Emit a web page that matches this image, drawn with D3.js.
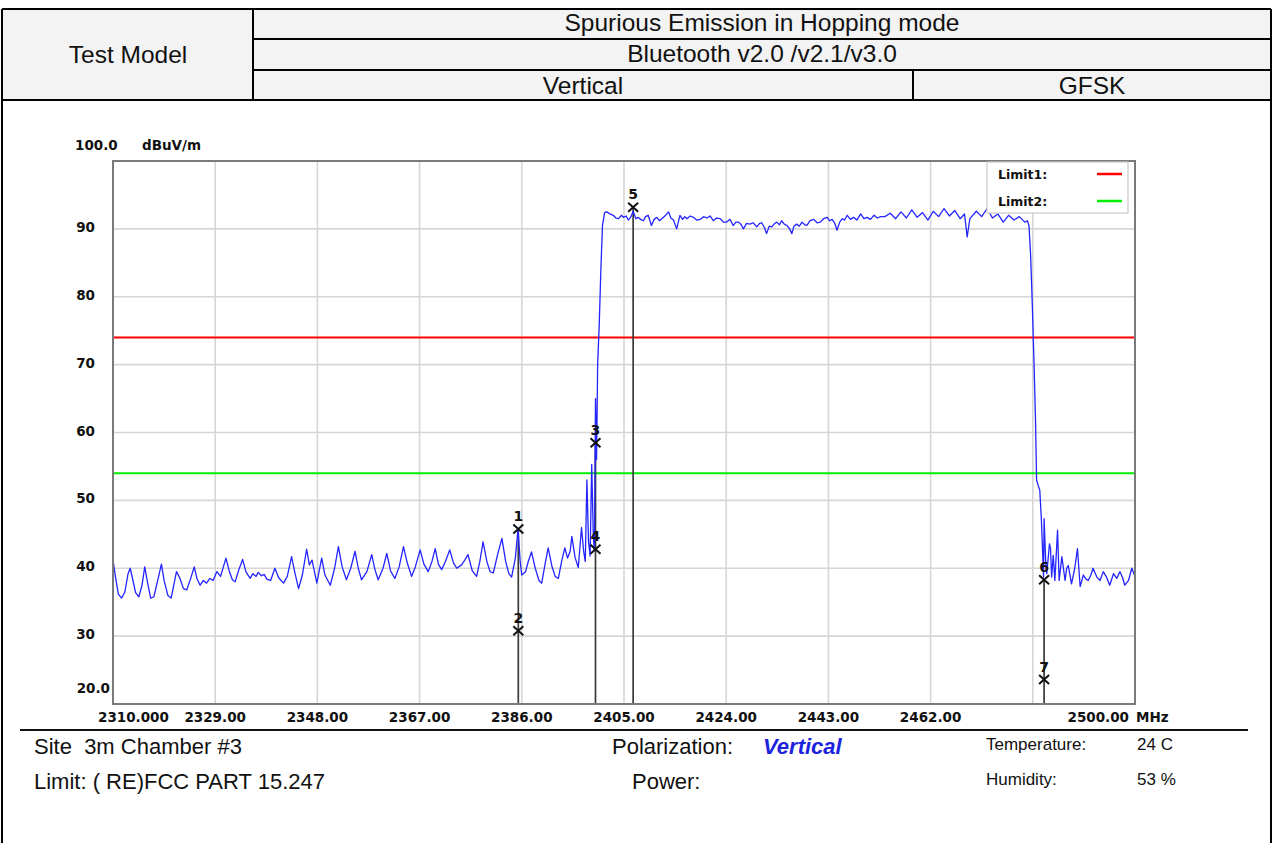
<!DOCTYPE html>
<html>
<head>
<meta charset="utf-8">
<script src="https://cdn.jsdelivr.net/npm/d3@7/dist/d3.min.js"></script>
<style>
  body { margin: 0; background: #fff; }
  svg { display: block; }
</style>
</head>
<body>
<div id="chart"></div>
<script>
var width = 1273,
    height = 843;

// sweep: [MHz, dBuV/m]
var trace = [
  [2310.0,41.2],[2310.5,38.5],[2311.0,36.2],[2311.6,35.6],[2312.2,36.5],[2312.8,39.2],[2313.2,40.0],[2313.6,38.6],
  [2314.2,36.4],[2314.8,35.8],[2315.4,37.5],[2315.9,40.2],[2316.4,38.0],[2317.0,35.6],[2317.6,35.8],[2318.4,38.5],
  [2319.0,40.6],[2319.5,38.2],[2320.2,36.0],[2320.8,35.6],[2321.3,37.5],[2321.8,39.5],[2322.4,38.6],[2323.1,37.0],
  [2323.7,36.8],[2324.4,38.4],[2325.1,40.2],[2325.6,38.5],[2326.2,37.5],[2326.8,38.2],[2327.4,37.8],[2328.0,38.5],
  [2328.6,38.2],[2329.3,39.5],[2330.0,38.8],[2331.0,41.5],[2331.6,39.6],[2332.2,38.3],[2332.7,38.0],[2333.4,39.8],
  [2334.1,41.3],[2334.7,39.5],[2335.5,38.5],[2336.0,39.2],[2336.6,38.8],[2337.0,39.4],[2337.6,38.9],[2338.1,39.1],
  [2338.6,38.4],[2339.3,38.2],[2340.1,40.0],[2340.8,38.6],[2341.7,37.8],[2342.4,38.8],[2343.2,41.7],[2343.8,39.4],
  [2344.5,37.0],[2345.2,39.0],[2346.0,42.8],[2346.5,40.5],[2347.0,41.2],[2347.9,37.8],[2348.3,39.5],[2348.8,41.5],
  [2349.4,39.0],[2350.4,37.5],[2351.2,40.0],[2351.9,43.2],[2352.6,40.2],[2353.4,38.3],[2354.2,40.0],[2355.0,42.5],
  [2355.6,40.0],[2356.2,38.3],[2357.2,39.5],[2358.1,42.0],[2358.7,39.8],[2359.3,38.3],[2360.2,40.0],[2360.9,42.2],
  [2361.6,39.6],[2362.4,38.5],[2363.2,40.2],[2364.0,43.2],[2364.7,40.8],[2365.5,38.8],[2366.2,40.2],[2367.1,42.7],
  [2367.8,40.6],[2368.6,39.5],[2369.3,41.0],[2369.9,42.9],[2370.5,40.6],[2371.1,39.8],[2371.8,41.0],[2372.6,42.7],
  [2373.3,40.8],[2373.9,40.0],[2374.8,40.5],[2375.4,41.2],[2376.0,42.0],[2376.8,39.6],[2377.6,38.8],[2378.2,41.0],
  [2378.8,43.9],[2379.5,41.0],[2380.1,39.5],[2380.7,39.3],[2381.5,42.0],[2382.3,44.4],[2383.0,41.0],[2383.6,39.2],
  [2384.1,38.7],[2384.8,41.5],[2385.3,45.8],[2385.7,41.0],[2386.0,39.0],[2386.7,39.5],[2387.2,41.0],[2387.8,42.4],
  [2388.5,40.0],[2389.2,38.2],[2389.7,37.8],[2390.3,40.5],[2390.9,43.0],[2391.6,40.3],[2392.2,38.8],[2392.8,38.5],
  [2393.4,41.0],[2394.0,43.0],[2394.5,41.5],[2395.0,42.5],[2395.3,44.7],[2395.9,41.6],[2396.5,40.1],[2397.1,46.0],
  [2397.5,42.5],[2397.8,41.0],[2398.1,53.0],[2398.4,44.0],[2398.7,41.8],[2399.0,55.3],[2399.3,44.5],[2399.5,42.6],
  [2399.7,65.0],[2399.9,56.0],[2400.1,70.0],[2400.4,76.0],[2400.7,84.0],[2401.0,90.5],[2401.4,92.4],
  [2401.8,92.5],[2402.4,92.2],[2403.0,92.0],[2403.5,91.6],[2404.0,91.5],[2404.5,92.0],[2404.9,91.7],[2405.4,91.9],
  [2405.8,91.3],[2406.3,91.8],[2406.7,92.6],[2407.2,91.5],[2407.6,91.7],[2408.1,91.4],[2408.6,91.2],[2409.0,91.8],
  [2409.5,92.0],[2410.1,90.5],[2410.6,91.4],[2411.1,91.7],[2411.6,91.2],[2412.0,91.5],[2412.6,91.9],[2413.3,92.5],
  [2413.7,91.6],[2414.2,91.3],[2414.8,90.0],[2415.4,92.0],[2415.9,91.4],[2416.3,91.8],[2416.7,91.5],[2417.3,91.9],
  [2417.9,91.7],[2418.5,91.3],[2419.2,91.4],[2419.8,91.8],[2420.4,91.6],[2421.0,91.9],[2421.6,91.2],[2422.2,91.6],
  [2422.9,91.5],[2423.5,91.0],[2424.1,91.0],[2424.7,91.4],[2425.3,90.5],[2425.8,91.0],[2426.3,91.0],[2426.8,90.6],
  [2427.2,90.0],[2427.8,90.8],[2428.4,90.7],[2429.0,90.9],[2429.7,90.3],[2430.2,90.8],[2430.6,90.9],[2431.1,90.2],
  [2431.5,89.3],[2432.0,90.4],[2432.5,90.3],[2433.0,90.8],[2433.4,91.0],[2433.9,90.6],[2434.3,91.2],[2434.8,90.7],
  [2435.3,90.5],[2435.8,90.0],[2436.2,89.3],[2436.6,90.4],[2437.1,90.7],[2437.6,90.4],[2438.1,91.0],[2438.6,90.6],
  [2439.0,90.5],[2439.6,91.2],[2440.3,91.4],[2440.9,90.9],[2441.5,91.0],[2442.1,91.5],[2442.8,91.7],[2443.2,91.2],
  [2443.7,91.4],[2444.2,90.8],[2444.6,89.8],[2445.1,91.0],[2445.6,91.5],[2446.0,91.3],[2446.5,92.0],[2447.1,91.4],
  [2447.7,91.7],[2448.3,91.3],[2449.0,92.2],[2449.6,91.5],[2450.2,91.7],[2450.8,91.4],[2451.5,92.0],[2452.1,91.6],
  [2452.7,91.8],[2453.5,91.8],[2454.5,92.3],[2455.5,91.5],[2456.5,92.5],[2457.5,91.6],[2458.5,92.8],[2459.5,91.7],
  [2460.5,92.4],[2461.5,91.3],[2462.5,92.6],[2463.5,91.8],[2464.5,93.0],[2465.5,91.9],[2466.5,92.7],[2467.5,91.5],
  [2468.3,92.2],[2468.8,88.8],[2469.3,91.5],[2470.5,92.6],[2471.5,91.8],[2472.5,93.0],[2473.5,91.6],[2474.5,92.2],
  [2475.5,91.0],[2476.5,92.0],[2477.5,91.3],[2478.5,91.8],[2479.5,91.0],[2480.0,91.2],[2480.3,90.4],
  [2480.6,86.0],[2480.9,79.0],[2481.2,71.0],[2481.5,62.0],[2481.7,53.0],[2482.0,52.2],[2482.3,51.5],[2482.6,47.1],
  [2483.0,38.7],[2483.1,47.3],[2483.4,41.0],[2483.6,39.2],[2484.1,43.6],[2484.3,42.9],[2484.5,38.7],[2484.8,41.9],
  [2485.1,38.2],[2485.6,45.6],[2485.9,38.2],[2486.4,41.7],[2487.0,38.2],[2487.3,40.0],[2487.6,40.4],[2488.2,37.7],
  [2488.8,40.0],[2489.3,42.9],[2489.8,37.3],[2490.4,39.0],[2490.9,38.4],[2491.3,38.2],[2491.8,39.0],[2492.2,40.0],
  [2492.9,38.7],[2493.5,38.2],[2494.1,39.5],[2494.7,38.7],[2495.3,37.5],[2496.0,39.2],[2496.6,38.5],[2497.2,39.5],
  [2497.7,38.6],[2498.1,37.5],[2498.8,38.2],[2499.4,40.0],[2500.0,38.8]
];

var markerIds = ["1","2","3","4","5","6","7"],
    markerMHz = [2385.35, 2385.35, 2399.7, 2399.7, 2406.7, 2483.1, 2483.1],
    markerDb  = [45.8, 30.8, 58.5, 42.8, 93.2, 38.3, 23.6];

var limitNames = ["Limit1:", "Limit2:"],
    limitDb = [74, 54];

var xTicks = [2310, 2329, 2348, 2367, 2386, 2405, 2424, 2443, 2462, 2481, 2500],
    xTickLabels = ["2310.000","2329.00","2348.00","2367.00","2386.00","2405.00","2424.00","2443.00","2462.00","","2500.00"],
    yTicks = [20, 30, 40, 50, 60, 70, 80, 90, 100],
    yTickLabels = ["20.0","30","40","50","60","70","80","90","100.0"];

var headerTitle = "Spurious Emission in Hopping mode",
    headerStd = "Bluetooth v2.0 /v2.1/v3.0",
    headerPol = "Vertical",
    headerMod = "GFSK";

var limitColor = ["#ff0000", "#00ee00"];

var svg = d3.select("#chart").append("svg")
    .attr("width", width)
    .attr("height", height)
    .style("background", "#fff");

//////// header table
var head = svg.append("g").attr("class","header");
head.append("rect").attr("x",2).attr("y",9).attr("width",1269).attr("height",91)
    .attr("fill","#f3f3f3");
var hl = [[2,9,1271,9],[253,39,1271,39],[253,70,1271,70],[2,100,1271,100],
          [2,9,2,843],[1271,9,1271,843],[253,9,253,100],[913,70,913,100]];
head.selectAll("line").data(hl).enter().append("line")
    .attr("x1",function(d){return d[0]}).attr("y1",function(d){return d[1]})
    .attr("x2",function(d){return d[2]}).attr("y2",function(d){return d[3]})
    .attr("stroke","#000").attr("stroke-width",2);

var htxt = [["Test Model",128,63],[headerTitle,762,31],[headerStd,762,62],[headerPol,583,94],[headerMod,1092,94]];
head.selectAll("text").data(htxt).enter().append("text")
    .attr("x",function(d){return d[1]}).attr("y",function(d){return d[2]})
    .attr("text-anchor","middle")
    .style("font-family","'Liberation Sans', Arial, sans-serif")
    .style("font-size","24.5px")
    .attr("fill","#111")
    .text(function(d){return d[0]});

//////// plot
var x = d3.scaleLinear().domain([2310, 2500]).range([113, 1135]);
var y = d3.scaleLinear().domain([20, 100]).range([704, 161]);

var plot = svg.append("g").attr("class","plot");

// grid
plot.selectAll(".vgrid").data(xTicks.slice(1, -1)).enter().append("line")
    .attr("class","vgrid")
    .attr("x1",function(d){return x(d)}).attr("x2",function(d){return x(d)})
    .attr("y1",y(100)).attr("y2",y(20))
    .attr("stroke","#d6d6d6").attr("stroke-width",1.6);
plot.selectAll(".hgrid").data(yTicks.slice(1, -1)).enter().append("line")
    .attr("class","hgrid")
    .attr("y1",function(d){return y(d)}).attr("y2",function(d){return y(d)})
    .attr("x1",x(2310)).attr("x2",x(2500))
    .attr("stroke","#d6d6d6").attr("stroke-width",1.6);

// limit lines
plot.selectAll(".limit").data(limitDb).enter().append("line")
    .attr("class","limit")
    .attr("x1",x(2310)).attr("x2",x(2500))
    .attr("y1",function(d){return y(d)}).attr("y2",function(d){return y(d)})
    .attr("stroke",function(d,i){return limitColor[i]}).attr("stroke-width",2);

// marker drop lines (from top marker of each frequency)
var dropTops = {};
markerMHz.forEach(function(f,i){
    if (dropTops[f] === undefined || markerDb[i] > dropTops[f]) dropTops[f] = markerDb[i];
});
plot.selectAll(".drop").data(Object.keys(dropTops)).enter().append("line")
    .attr("class","drop")
    .attr("x1",function(d){return x(+d)}).attr("x2",function(d){return x(+d)})
    .attr("y1",function(d){return y(dropTops[d])}).attr("y2",y(20))
    .attr("stroke","#3a3a3a").attr("stroke-width",1.7);

// trace
var line = d3.line()
    .x(function(d){return x(d[0])})
    .y(function(d){return y(d[1])});
plot.append("path")
    .datum(trace)
    .attr("d",line)
    .attr("fill","none")
    .attr("stroke","#2424ff")
    .attr("stroke-width",1.3)
    .attr("stroke-linejoin","round");

// frame
plot.append("rect")
    .attr("x",x(2310)).attr("y",y(100))
    .attr("width",x(2500)-x(2310)).attr("height",y(20)-y(100))
    .attr("fill","none").attr("stroke","#7a7a7a").attr("stroke-width",2);

// markers
var mk = plot.selectAll(".marker").data(markerIds).enter().append("g")
    .attr("class","marker")
    .attr("transform",function(d,i){return "translate(" + x(markerMHz[i]) + "," + y(markerDb[i]) + ")"});
mk.append("path")
    .attr("d","M-5,-4.5L5,4.5M5,-4.5L-5,4.5")
    .attr("stroke","#111").attr("stroke-width",2);
mk.append("text")
    .attr("x",0).attr("y",-8)
    .attr("text-anchor","middle")
    .style("font-family","'DejaVu Sans', sans-serif")
    .style("font-weight","bold")
    .style("font-size","14px")
    .attr("fill","#111")
    .text(function(d){return d});

// legend
var lg = plot.append("g").attr("class","legend");
lg.append("rect").attr("x",987).attr("y",162).attr("width",141).attr("height",51)
    .attr("fill","#fff").attr("stroke","#c8c8c8").attr("stroke-width",1.2);
limitNames.forEach(function(n,i){
    lg.append("text").attr("x",998).attr("y",179 + i*27)
      .style("font-family","'DejaVu Sans', sans-serif").style("font-weight","bold")
      .style("font-size","12.5px").attr("fill","#111").text(n);
    lg.append("line").attr("x1",1097).attr("x2",1122)
      .attr("y1",174 + i*27).attr("y2",174 + i*27)
      .attr("stroke",limitColor[i]).attr("stroke-width",2.5);
});

// axis labels
var axisFont = function(sel){
    sel.style("font-family","'DejaVu Sans', sans-serif")
       .style("font-weight","bold")
       .style("font-size","13.5px")
       .attr("fill","#111");
};
plot.selectAll(".ylab").data(yTicks).enter().append("text")
    .attr("class","ylab")
    .attr("x",function(d){return d==100 ? 75 : (d==20 ? 110 : 95)})
    .attr("y",function(d){return d==100 || d==20 ? y(d) - 11 : y(d) + 3})
    .attr("text-anchor",function(d){return d==100 ? "start" : "end"})
    .call(axisFont)
    .text(function(d,i){return yTickLabels[i]});
plot.append("text").attr("x",142).attr("y",150).call(axisFont).text("dBuV/m");

plot.selectAll(".xlab").data(xTicks).enter().append("text")
    .attr("class","xlab")
    .attr("x",function(d,i){return i==0 ? 98 : (i==xTicks.length-1 ? 1129 : x(d))})
    .attr("y",722)
    .attr("text-anchor",function(d,i){return i==0 ? "start" : (i==xTicks.length-1 ? "end" : "middle")})
    .call(axisFont)
    .text(function(d,i){return xTickLabels[i]});
plot.append("text").attr("x",1136).attr("y",722).call(axisFont).text("MHz");

//////// footer
svg.append("line").attr("x1",20).attr("x2",1248).attr("y1",730).attr("y2",730)
    .attr("stroke","#111").attr("stroke-width",2);

var foot = [
  {t:"Site  3m Chamber #3", x:34, y:754, s:22},
  {t:"Limit: ( RE)FCC PART 15.247", x:34, y:789, s:22},
  {t:"Polarization:", x:612, y:754, s:22},
  {t:"Power:", x:632, y:789, s:22},
  {t:"Temperature:", x:986, y:750, s:17},
  {t:"Humidity:", x:986, y:785, s:17},
  {t:"24 C", x:1137, y:750, s:17},
  {t:"53 %", x:1137, y:785, s:17}
];
svg.selectAll(".foot").data(foot).enter().append("text")
    .attr("class","foot")
    .attr("x",function(d){return d.x}).attr("y",function(d){return d.y})
    .attr("xml:space","preserve")
    .style("white-space","pre")
    .style("font-family","'Liberation Sans', Arial, sans-serif")
    .style("font-size",function(d){return d.s + "px"})
    .attr("fill","#111")
    .text(function(d){return d.t});
svg.append("text").attr("x",763).attr("y",754)
    .style("font-family","'Liberation Sans', Arial, sans-serif")
    .style("font-size","22px").style("font-weight","bold").style("font-style","italic")
    .attr("fill","#1c22dd")
    .text(headerPol);
</script>
</body>
</html>
